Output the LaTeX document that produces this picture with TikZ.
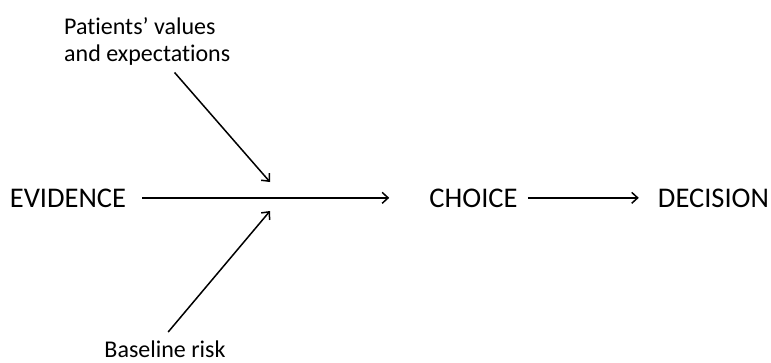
\documentclass[tikz,border=0pt]{standalone}
\usepackage{fontspec}
\setmainfont[Ligatures={TeX,NoCommon}]{Carlito}
\usetikzlibrary{arrows.meta}

\begin{document}
\begin{tikzpicture}[x=1pt,y=-1pt,
  step word/.style={inner sep=0pt,font=\fontsize{28.5}{34}\selectfont},
  factor/.style={inner sep=2pt,align=left,font=\fontsize{24}{27}\selectfont},
  arr/.style={-{Straight Barb[length=6pt,width=11pt,line width=1.5pt]},line width=1.5pt,black}]
  \useasboundingbox (0,0) rectangle (771,362);
  \node[step word,anchor=base] (ev) at (68,207) {EVIDENCE};
  \node[step word,anchor=base] (ch) at (473.5,207) {CHOICE};
  \node[step word,anchor=base] (dec) at (713.5,207) {DECISION};
  \node[factor,anchor=north west] (pv) at (62,15) {Patients' values\\and expectations};
  \node[factor,anchor=base] (br) at (165,357) {Baseline risk};
  \coordinate (jtop) at (270,182);
  \coordinate (jbot) at (270,211);
  \draw[arr,shorten <=16pt,shorten >=40pt] (ev) -- (ch);
  \draw[arr,shorten <=10pt,shorten >=19pt] (ch) -- (dec);
  \draw[arr,shorten <=7pt] (pv) -- (jtop);
  \draw[arr,shorten <=8pt] ([xshift=-2pt]br.north) -- (jbot);
\end{tikzpicture}
\end{document}
